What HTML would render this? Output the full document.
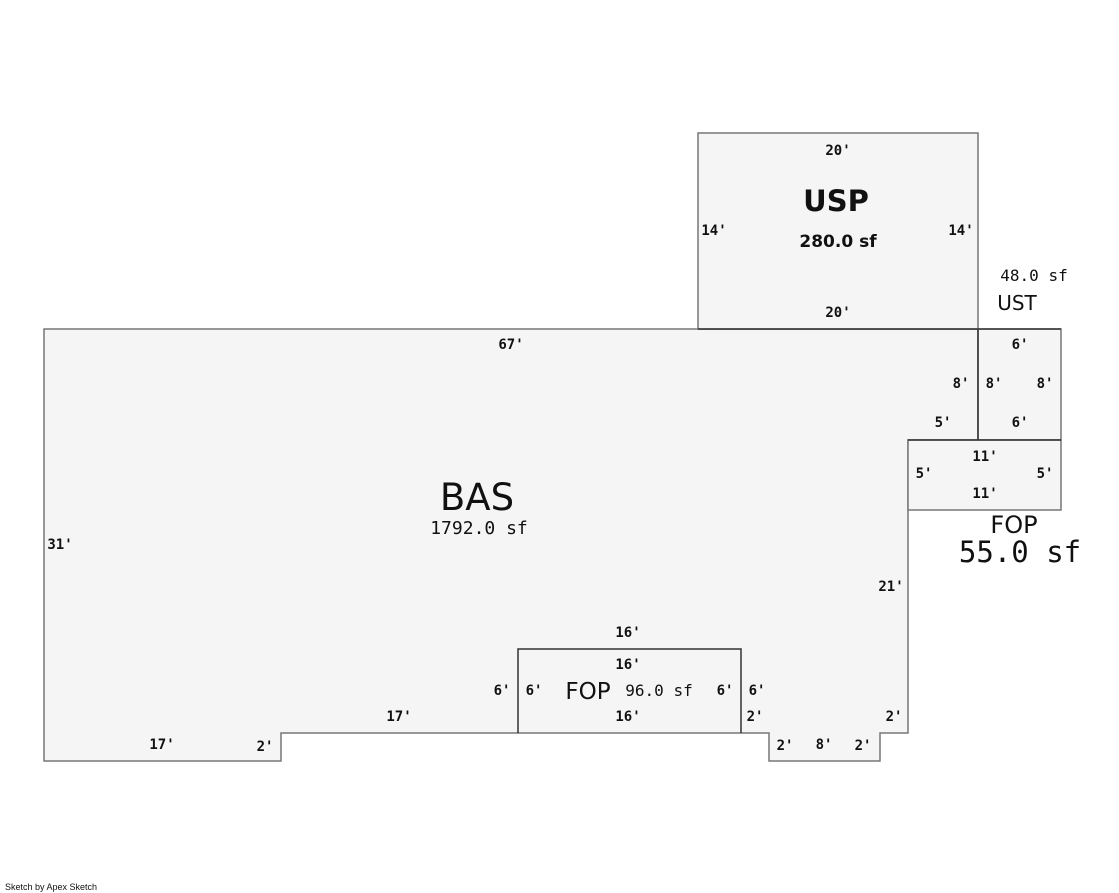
<!DOCTYPE html>
<html><head><meta charset="utf-8"><style>
html,body{margin:0;padding:0;background:#fff;width:1119px;height:893px;overflow:hidden}
svg{display:block}
.d{font-family:"DejaVu Sans Mono","Liberation Mono",monospace;font-weight:bold;font-size:14px;fill:#111}
.m{font-family:"DejaVu Sans Mono","Liberation Mono",monospace;fill:#111}
.t{font-family:"DejaVu Sans","Liberation Sans",sans-serif;fill:#111}
</style></head><body>
<svg width="1119" height="893" xmlns="http://www.w3.org/2000/svg">
<g fill="#f5f5f5" stroke="#777" stroke-width="1.5">
<polygon points="44,329 978,329 978,440 908,440 908,733 880,733 880,761 769,761 769,733 741,733 281,733 281,761 44,761"/>
<rect x="698" y="133" width="280" height="196"/>
<rect x="978" y="329" width="83" height="111"/>
<rect x="908" y="440" width="153" height="70"/>
</g>
<g fill="none" stroke="#333" stroke-width="1.5">
<polyline points="518,733 518,649 741,649 741,733"/>
<line x1="978" y1="329" x2="978" y2="440"/>
<line x1="908" y1="440" x2="1061" y2="440"/>
<line x1="698" y1="329" x2="1061" y2="329"/>
</g>
<g class="d" text-anchor="middle">
<text x="838" y="155">20'</text>
<text x="714" y="235">14'</text>
<text x="961" y="235">14'</text>
<text x="838" y="317">20'</text>
<text x="511" y="349">67'</text>
<text x="1020" y="349">6'</text>
<text x="961" y="388">8'</text>
<text x="994" y="388">8'</text>
<text x="1045" y="388">8'</text>
<text x="943" y="427">5'</text>
<text x="1020" y="427">6'</text>
<text x="985" y="461">11'</text>
<text x="924" y="478">5'</text>
<text x="1045" y="478">5'</text>
<text x="985" y="498">11'</text>
<text x="60" y="549">31'</text>
<text x="891" y="591">21'</text>
<text x="628" y="637">16'</text>
<text x="628" y="669">16'</text>
<text x="502" y="695">6'</text>
<text x="534" y="695">6'</text>
<text x="725" y="695">6'</text>
<text x="757" y="695">6'</text>
<text x="628" y="721">16'</text>
<text x="399" y="721">17'</text>
<text x="755" y="721">2'</text>
<text x="894" y="721">2'</text>
<text x="162" y="749">17'</text>
<text x="265" y="751">2'</text>
<text x="785" y="750">2'</text>
<text x="824" y="749">8'</text>
<text x="863" y="750">2'</text>
</g>
<text class="t" x="836" y="211" text-anchor="middle" style="font-size:29px;font-weight:bold">USP</text>
<text class="t" x="838" y="247" text-anchor="middle" style="font-size:17px;font-weight:bold">280.0 sf</text>
<text class="m" x="1034" y="281" text-anchor="middle" style="font-size:16px">48.0 sf</text>
<text class="t" x="1017" y="310" text-anchor="middle" style="font-size:20px">UST</text>
<text class="t" x="477" y="510" text-anchor="middle" style="font-size:37px">BAS</text>
<text class="m" x="479" y="534" text-anchor="middle" style="font-size:18px">1792.0 sf</text>
<text class="t" x="1014" y="533" text-anchor="middle" style="font-size:24px">FOP</text>
<text class="m" x="1020" y="562" text-anchor="middle" style="font-size:29px">55.0 sf</text>
<text class="t" x="588" y="699" text-anchor="middle" style="font-size:23px">FOP</text>
<text class="m" x="659" y="696" text-anchor="middle" style="font-size:16px">96.0 sf</text>
<text x="5" y="890" style="font-family:'Liberation Sans',sans-serif;font-size:9px" fill="#111">Sketch by Apex Sketch</text>
</svg>
</body></html>
